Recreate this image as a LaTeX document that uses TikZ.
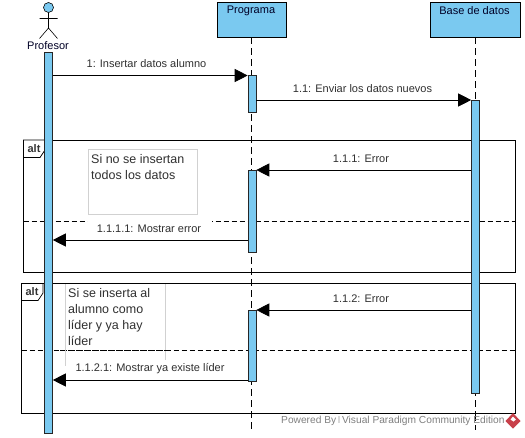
\documentclass[tikz,border=0pt]{standalone}
\usepackage{fontspec}
\setmainfont{Liberation Sans}
\usetikzlibrary{arrows.meta}
\definecolor{vpblue}{HTML}{7AC9F0}
\definecolor{txt}{HTML}{303030}
\definecolor{vpred}{HTML}{C8404A}
\tikzset{
  x=1pt,y=-1pt,
  headbox/.style={draw=black,line width=0.7pt,fill=vpblue,minimum height=34.5pt,inner sep=0pt},
  headtext/.style={font=\fontsize{11}{12}\selectfont,text=black!85!blue,anchor=center,inner sep=0pt},
  life/.style={draw=black,line width=0.7pt,dash pattern=on 7pt off 4pt},
  actbox/.style={draw=black!85,line width=0.6pt,fill=vpblue,minimum width=8pt,inner sep=0pt},
  msg/.style={draw=black,line width=0.7pt,-{Triangle[length=13pt,width=13pt]}},
  msglabel/.style={font=\fontsize{11}{12}\selectfont,text=txt,inner sep=0pt},
  frag/.style={draw=black,line width=0.7pt},
  divider/.style={draw=black,line width=0.7pt,dash pattern=on 5pt off 3pt},
  notebox/.style={draw=black!18,line width=0.6pt,fill=white},
  notetext/.style={font=\fontsize{12.5}{16}\selectfont,text=txt,inner sep=0pt,align=left,anchor=north west},
  altlabel/.style={font=\bfseries\fontsize{11}{12}\selectfont,text=black!80,inner sep=0pt},
  stick/.style={draw=black,line width=0.6pt},
}
\begin{document}
\begin{tikzpicture}
\useasboundingbox (0,0) rectangle (525,437);
\fill[white] (0,0) rectangle (525,437);
% fragment frames
\draw[frag] (23.5,140) rectangle (515.5,272);
\draw[frag] (21.5,283.5) rectangle (515.5,413);
\draw[divider] (23.5,221) -- (515.5,221);
\draw[divider] (21.5,350.5) -- (515.5,350.5);
% notes
\fill[white] (88,215) rectangle (212,228);
\draw[notebox] (88,149) rectangle (197,214);
\node[notetext] (note1) at (91,154) {Si no se insertan\\todos los datos};
\draw[draw=black!18,line width=0.6pt] (65,284) -- (65,366) (165,284) -- (165,360);
\draw[divider] (60,350.5) -- (170,350.5);
\node[notetext] (note2) at (68,288.5) {Si se inserta al\\alumno como\\líder y ya hay\\líder};
% alt tabs
\draw[frag,fill=white] (23.5,140) -- (45,140) -- (45,150) -- (40,157.5) -- (23.5,157.5) -- cycle;
\node[altlabel] (alt1) at (34,148.5) {alt};
\draw[frag,fill=white] (21.5,283.5) -- (43,283.5) -- (43,293) -- (38,300.5) -- (21.5,300.5) -- cycle;
\node[altlabel] (alt2) at (32,291.5) {alt};
% lifeline heads
\node[headbox,minimum width=69pt] (prog) at (251.5,19.75) {};
\node[headbox,minimum width=90pt] (base) at (475,19.75) {};
\node[headtext] (progt) at (251,10.5) {Programa};
\node[headtext] (baset) at (474.5,10.5) {Base de datos};
\coordinate (progend) at (251.5,430);
\coordinate (baseend) at (475.5,430);
\draw[life] (prog.south) -- (progend);
\draw[life] (475.5,37) -- (baseend);
% actor
\draw[stick,fill=vpblue] (48.5,7.5) circle (5pt);
\draw[stick] (48.5,12.5) -- (48.5,28) (39.5,18.5) -- (57.5,18.5) (39.5,38.5) -- (48.5,28) -- (57.5,38.5);
\node[headtext] (prof) at (48,45.5) {Profesor};
% activations
\node[actbox,minimum height=381pt] (a0) at (48.5,242.5) {};
\node[actbox,minimum height=37pt] (a1) at (252,94) {};
\node[actbox,minimum height=293pt] (a2) at (475.5,246.5) {};
\node[actbox,minimum height=82pt] (a3) at (252,211) {};
\node[actbox,minimum height=71pt] (a4) at (252,345.5) {};
% messages
\coordinate (m1s) at (a0.east |- 0,75.5);
\coordinate (m1e) at (a1.west |- 0,75.5);
\draw[msg] (m1s) -- (m1e);
\node[msglabel] (l1) at (146.5,63.5) {1: Insertar datos alumno};
\coordinate (m2s) at (a1.east |- 0,100);
\coordinate (m2e) at (a2.west |- 0,100);
\draw[msg] (m2s) -- (m2e);
\node[msglabel] (l2) at (362.5,88.5) {1.1: Enviar los datos nuevos};
\coordinate (m3s) at (a2.west |- 0,170);
\coordinate (m3e) at (a3.east |- 0,170);
\draw[msg] (m3s) -- (m3e);
\node[msglabel] (l3) at (361,158.5) {1.1.1: Error};
\coordinate (m4s) at (a3.west |- 0,240);
\coordinate (m4e) at (a0.east |- 0,240);
\draw[msg] (m4s) -- (m4e);
\node[msglabel] (l4) at (149,228.5) {1.1.1.1: Mostrar error};
\coordinate (m5s) at (a2.west |- 0,310);
\coordinate (m5e) at (a4.east |- 0,310);
\draw[msg] (m5s) -- (m5e);
\node[msglabel] (l5) at (361,298.5) {1.1.2: Error};
\coordinate (m6s) at (a4.west |- 0,380);
\coordinate (m6e) at (a0.east |- 0,380);
\draw[msg] (m6s) -- (m6e);
\node[msglabel] (l6) at (150,368.5) {1.1.2.1: Mostrar ya existe líder};
% watermark
\fill[white] (280,414) rectangle (505,429);
\draw[life] (475.5,414) -- (baseend);
\node[font=\fontsize{10.2}{12}\selectfont,text=black!50,inner sep=0pt,anchor=west] (wm) at (281,420.5) {Powered By\,\textcolor{black!15}{\rule{2.5pt}{7pt}}\,Visual Paradigm Community Edition};
\fill[vpred] (513,413) -- (520.5,421) -- (513,428.5) -- (505.5,421) -- cycle;
\fill[white] (513,416.5) -- (516,419.5) -- (513.5,421.5) -- (510.5,419.5) -- cycle;
\end{tikzpicture}
\end{document}
